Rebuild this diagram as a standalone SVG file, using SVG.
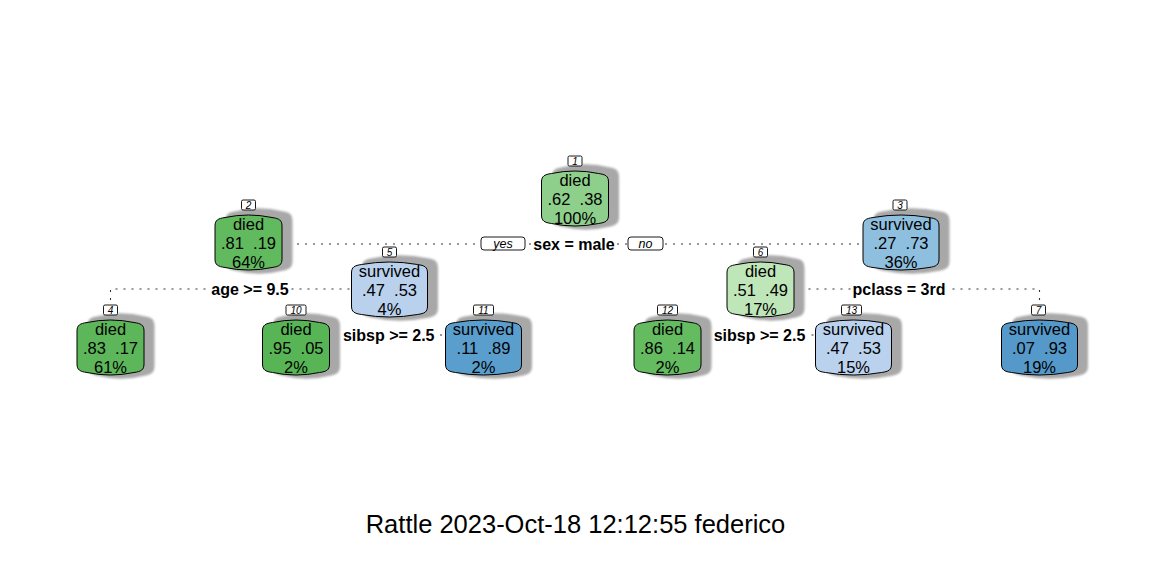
<svg xmlns="http://www.w3.org/2000/svg" xmlns:xlink="http://www.w3.org/1999/xlink" width="1152" height="576" viewBox="0 0 1152 576">
<style>
.nt{font-family:"Liberation Sans",Arial,sans-serif;font-size:16.5px;fill:#000;text-anchor:middle}
.sl{font-family:"Liberation Sans",Arial,sans-serif;font-size:16px;font-weight:bold;fill:#000;text-anchor:middle}
.num{font-family:"Liberation Sans",Arial,sans-serif;font-size:10px;font-style:italic;fill:#000;text-anchor:middle}
.yn{font-family:"Liberation Sans",Arial,sans-serif;font-size:12.5px;font-style:italic;fill:#000;text-anchor:middle}
.lb{fill:#fff;stroke:#000;stroke-width:0.9}
.box{stroke:#000;stroke-width:1}
.sh{fill:#a8a8a8;filter:url(#blur)}
.dot{fill:none;stroke:#333;stroke-width:1.1;stroke-dasharray:2 6}
.bg{fill:#fff}
.title{font-family:"Liberation Sans",Arial,sans-serif;font-size:25.5px;fill:#000;text-anchor:middle}
</style>
<defs>
<filter id="blur" x="-20%" y="-20%" width="140%" height="140%"><feGaussianBlur stdDeviation="0.9"/></filter>
<path id="dshape" d="M0,12 C0,6 3,4.5 10,3.5 Q33.5,-1.5 57,3.5 C64,4.5 67,6 67,12 V45 C67,51 64,52.5 57,53.5 Q33.5,58.5 10,53.5 C3,52.5 0,51 0,45 Z"/>
<path id="sshape" d="M0,12 C0,6 3,4.5 10,3.5 Q38,-1.5 66,3.5 C73,4.5 76,6 76,12 V45 C76,51 73,52.5 66,53.5 Q38,58.5 10,53.5 C3,52.5 0,51 0,45 Z"/>
</defs>
<rect width="1152" height="576" fill="#fff"/>

<g id="connectors">
<path class="dot" d="M249,244 H901"/>
<path class="dot" d="M389.5,289 H110.5 V305"/>
<path class="dot" d="M760.5,289 H1039.5 V305"/>
<path class="dot" d="M296,335 H483.5"/>
<path class="dot" d="M667.5,335 H853.5"/>
<rect class="lb" x="481" y="237" width="44" height="13" rx="3"/>
<text class="yn" x="503" y="248">yes</text>
<rect class="lb" x="628" y="237" width="35" height="13" rx="3"/>
<text class="yn" x="645.5" y="248">no</text>
<rect class="bg" x="532" y="236" width="84" height="17"/>
<text class="sl" x="574" y="249.5">sex = male</text>
<rect class="bg" x="210" y="281" width="80" height="17"/>
<text class="sl" x="250" y="294.5">age &gt;= 9.5</text>
<rect class="bg" x="851" y="281" width="96" height="17"/>
<text class="sl" x="899" y="294.5">pclass = 3rd</text>
<rect class="bg" x="342" y="327" width="93" height="17"/>
<text class="sl" x="388.7" y="340.5">sibsp &gt;= 2.5</text>
<rect class="bg" x="713" y="327" width="93" height="17"/>
<text class="sl" x="759.5" y="340.5">sibsp &gt;= 2.5</text>
</g>

<g id="node1">
<use href="#dshape" class="sh" transform="translate(552,163) scale(1,1.19)"/>
<use href="#dshape" class="box" fill="#8ED08B" transform="translate(541.5,170)"/>
<rect class="lb" x="568" y="156" width="14" height="10" rx="1.5"/>
<text class="num" x="575" y="164.5">1</text>
<text class="nt" x="575" y="186">died</text>
<text class="nt" x="575" y="205" xml:space="preserve">.62  .38</text>
<text class="nt" x="575" y="224">100%</text>
</g>

<g id="node2">
<use href="#dshape" class="sh" transform="translate(225.5,207) scale(1,1.19)"/>
<use href="#dshape" class="box" fill="#62BA5E" transform="translate(215,214)"/>
<rect class="lb" x="241.5" y="200" width="14" height="10" rx="1.5"/>
<text class="num" x="248.5" y="208.5">2</text>
<text class="nt" x="248.5" y="230">died</text>
<text class="nt" x="248.5" y="249" xml:space="preserve">.81  .19</text>
<text class="nt" x="248.5" y="268">64%</text>
</g>

<g id="node3">
<use href="#sshape" class="sh" transform="translate(873.5,207) scale(1,1.19)"/>
<use href="#sshape" class="box" fill="#8EBFDF" transform="translate(863,214)"/>
<rect class="lb" x="893" y="200" width="14" height="10" rx="1.5"/>
<text class="num" x="900" y="208.5">3</text>
<text class="nt" x="901" y="230">survived</text>
<text class="nt" x="901" y="249" xml:space="preserve">.27  .73</text>
<text class="nt" x="901" y="268">36%</text>
</g>

<g id="node5">
<use href="#sshape" class="sh" transform="translate(362,254) scale(1,1.19)"/>
<use href="#sshape" class="box" fill="#B9D1EC" transform="translate(351.5,261)"/>
<rect class="lb" x="382.5" y="247" width="14" height="10" rx="1.5"/>
<text class="num" x="389.5" y="255.5">5</text>
<text class="nt" x="389.5" y="277">survived</text>
<text class="nt" x="389.5" y="296" xml:space="preserve">.47  .53</text>
<text class="nt" x="389.5" y="315">4%</text>
</g>

<g id="node6">
<use href="#dshape" class="sh" transform="translate(737.5,254) scale(1,1.19)"/>
<use href="#dshape" class="box" fill="#BFE6B8" transform="translate(727,261)"/>
<rect class="lb" x="753.5" y="247" width="14" height="10" rx="1.5"/>
<text class="num" x="760.5" y="255.5">6</text>
<text class="nt" x="760.5" y="277">died</text>
<text class="nt" x="760.5" y="296" xml:space="preserve">.51  .49</text>
<text class="nt" x="760.5" y="315">17%</text>
</g>

<g id="node4">
<use href="#dshape" class="sh" transform="translate(87.5,312) scale(1,1.19)"/>
<use href="#dshape" class="box" fill="#5DB75A" transform="translate(77,319)"/>
<rect class="lb" x="103.5" y="305" width="14" height="10" rx="1.5"/>
<text class="num" x="110.5" y="313.5">4</text>
<text class="nt" x="110.5" y="335">died</text>
<text class="nt" x="110.5" y="354" xml:space="preserve">.83  .17</text>
<text class="nt" x="110.5" y="373">61%</text>
</g>

<g id="node10">
<use href="#dshape" class="sh" transform="translate(273,312) scale(1,1.19)"/>
<use href="#dshape" class="box" fill="#58B555" transform="translate(262.5,319)"/>
<rect class="lb" x="286" y="305" width="20" height="10" rx="1.5"/>
<text class="num" x="296" y="313.5">10</text>
<text class="nt" x="296" y="335">died</text>
<text class="nt" x="296" y="354" xml:space="preserve">.95  .05</text>
<text class="nt" x="296" y="373">2%</text>
</g>

<g id="node11">
<use href="#sshape" class="sh" transform="translate(456,312) scale(1,1.19)"/>
<use href="#sshape" class="box" fill="#5A9ECE" transform="translate(445.5,319)"/>
<rect class="lb" x="473.5" y="305" width="20" height="10" rx="1.5"/>
<text class="num" x="483.5" y="313.5">11</text>
<text class="nt" x="483.5" y="335">survived</text>
<text class="nt" x="483.5" y="354" xml:space="preserve">.11  .89</text>
<text class="nt" x="483.5" y="373">2%</text>
</g>

<g id="node12">
<use href="#dshape" class="sh" transform="translate(644.5,312) scale(1,1.19)"/>
<use href="#dshape" class="box" fill="#64BB60" transform="translate(634,319)"/>
<rect class="lb" x="657.5" y="305" width="20" height="10" rx="1.5"/>
<text class="num" x="667.5" y="313.5">12</text>
<text class="nt" x="667.5" y="335">died</text>
<text class="nt" x="667.5" y="354" xml:space="preserve">.86  .14</text>
<text class="nt" x="667.5" y="373">2%</text>
</g>

<g id="node13">
<use href="#sshape" class="sh" transform="translate(826,312) scale(1,1.19)"/>
<use href="#sshape" class="box" fill="#BAD2ED" transform="translate(815.5,319)"/>
<rect class="lb" x="841.5" y="305" width="20" height="10" rx="1.5"/>
<text class="num" x="851.5" y="313.5">13</text>
<text class="nt" x="853.5" y="335">survived</text>
<text class="nt" x="853.5" y="354" xml:space="preserve">.47  .53</text>
<text class="nt" x="853.5" y="373">15%</text>
</g>

<g id="node7">
<use href="#sshape" class="sh" transform="translate(1012,312) scale(1,1.19)"/>
<use href="#sshape" class="box" fill="#5599CA" transform="translate(1001.5,319)"/>
<rect class="lb" x="1031.5" y="305" width="14" height="10" rx="1.5"/>
<text class="num" x="1038.5" y="313.5">7</text>
<text class="nt" x="1039.5" y="335">survived</text>
<text class="nt" x="1039.5" y="354" xml:space="preserve">.07  .93</text>
<text class="nt" x="1039.5" y="373">19%</text>
</g>

<text class="title" x="575.5" y="533">Rattle 2023-Oct-18 12:12:55 federico</text>
</svg>
